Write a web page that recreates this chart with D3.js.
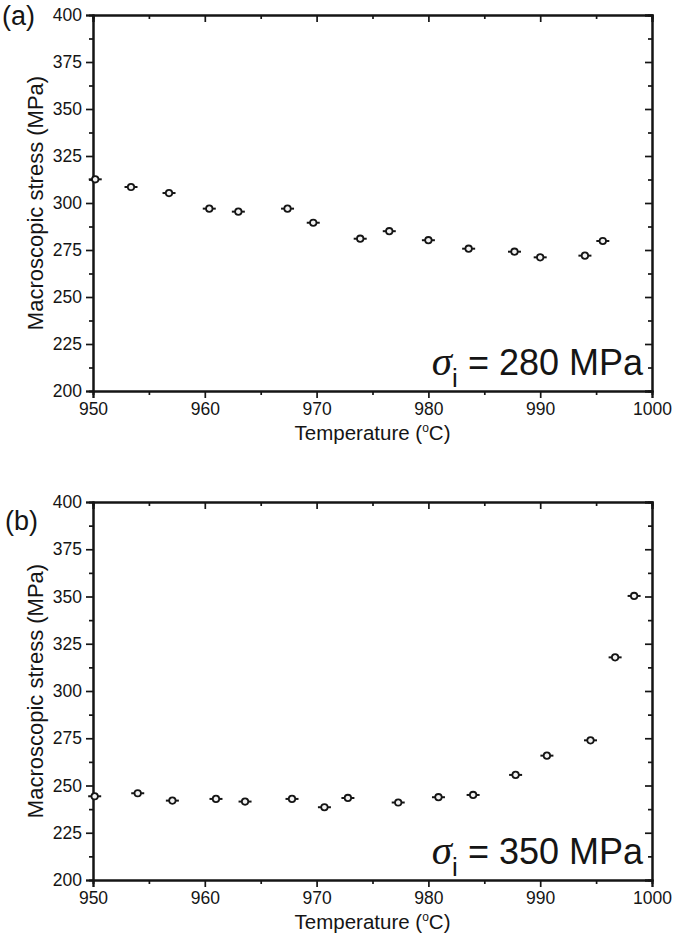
<!DOCTYPE html>
<html><head><meta charset="utf-8">
<script src="https://cdn.jsdelivr.net/npm/d3@7/dist/d3.min.js"></script>
<style>body{margin:0;background:#fff}</style>
</head><body>
<svg id="c" width="675" height="937"></svg>
<script>
// Panel (a): sigma_i = 280 MPa
const tempA   = [950.2, 953.4, 956.8, 960.4, 963.0, 967.4, 969.7, 973.9, 976.5, 980.0, 983.6, 987.7, 990.0, 994.0, 995.6];
const stressA = [312.6, 308.5, 305.3, 297.0, 295.4, 297.0, 289.5, 281.0, 285.0, 280.2, 275.7, 274.1, 271.1, 272.0, 279.8];
// Panel (b): sigma_i = 350 MPa
const tempB   = [950.15, 954.0, 957.1, 961.0, 963.6, 967.8, 970.7, 972.8, 977.3, 980.9, 984.0, 987.8, 990.6, 994.5, 996.7, 998.4];
const stressB = [244.3, 245.9, 242.0, 242.9, 241.5, 242.9, 238.5, 243.4, 241.0, 243.8, 245.0, 255.6, 265.8, 273.9, 317.8, 350.3];

const xTicks = [950, 960, 970, 980, 990, 1000];
const xMinor = [955, 965, 975, 985, 995];
const yTicks = [200, 225, 250, 275, 300, 325, 350, 375, 400];
const yMinor = [212.5, 237.5, 262.5, 287.5, 312.5, 337.5, 362.5, 387.5];
const panelLabels = ["(a)", "(b)"];
const sigmaValues = ["280", "350"];
const xTitle = "Temperature (";
const yTitle = "Macroscopic stress (MPa)";

const svg = d3.select("#c");
const FONT = "'Liberation Sans', Arial, sans-serif";
const INK = "#151515";
const left = 93, right = 652;
const layout = [{top: 15, bottom: 391, lx: 2, ly: 25}, {top: 502, bottom: 880, lx: 5, ly: 530}];
const data = [[tempA, stressA], [tempB, stressB]];

const x = d3.scaleLinear().domain([950, 1000]).range([left, right]);

layout.forEach((L, i) => {
  const y = d3.scaleLinear().domain([200, 400]).range([L.bottom, L.top]);
  const g = svg.append("g");

  function styleAxis(sel) {
    sel.select(".domain").attr("stroke", INK).attr("stroke-width", 2);
    sel.selectAll(".tick line").attr("stroke", INK).attr("stroke-width", 1.7);
    sel.selectAll(".tick text").attr("fill", INK).style("font-family", FONT).style("font-size", "17.5px");
  }
  // minor ticks
  g.append("g").attr("transform", `translate(0,${L.bottom})`)
    .call(d3.axisBottom(x).tickValues(xMinor).tickSize(4).tickFormat("")).call(styleAxis);
  g.append("g").attr("transform", `translate(0,${L.top})`)
    .call(d3.axisTop(x).tickValues(xMinor).tickSize(-4).tickFormat("")).call(styleAxis);
  g.append("g").attr("transform", `translate(${left},0)`)
    .call(d3.axisLeft(y).tickValues(yMinor).tickSize(4).tickFormat("")).call(styleAxis);
  g.append("g").attr("transform", `translate(${right},0)`)
    .call(d3.axisRight(y).tickValues(yMinor).tickSize(-4).tickFormat("")).call(styleAxis);
  // major ticks
  g.append("g").attr("transform", `translate(0,${L.bottom})`)
    .call(d3.axisBottom(x).tickValues(xTicks).tickSize(7).tickPadding(5).tickFormat(d3.format("d"))).call(styleAxis);
  g.append("g").attr("transform", `translate(0,${L.top})`)
    .call(d3.axisTop(x).tickValues(xTicks).tickSize(-7).tickFormat("")).call(styleAxis);
  g.append("g").attr("transform", `translate(${left},0)`)
    .call(d3.axisLeft(y).tickValues(yTicks).tickSize(7).tickPadding(4).tickFormat(d3.format("d"))).call(styleAxis);
  g.append("g").attr("transform", `translate(${right},0)`)
    .call(d3.axisRight(y).tickValues(yTicks).tickSize(-7).tickFormat("")).call(styleAxis);

  // points with horizontal error bars
  const [T, S] = data[i];
  const pts = g.append("g").selectAll("g").data(T.map((t, k) => [t, S[k]])).join("g")
    .attr("transform", d => `translate(${x(d[0])},${y(d[1])})`);
  pts.append("line").attr("x1", -6.5).attr("x2", 6.5).attr("stroke", INK).attr("stroke-width", 2);
  pts.append("circle").attr("r", 3.2).attr("fill", "#f2f2f2").attr("stroke", INK).attr("stroke-width", 1.8);

  // x title
  const xt = g.append("text").attr("x", (left + right) / 2).attr("y", L.bottom + 49)
    .attr("text-anchor", "middle").attr("fill", INK).style("font-family", FONT).style("font-size", "20.5px");
  xt.append("tspan").text(xTitle);
  xt.append("tspan").attr("dy", -8).style("font-size", "12px").text("o");
  xt.append("tspan").attr("dy", 8).text("C)");

  // y title
  g.append("text").attr("transform", `translate(43,${(L.top + L.bottom) / 2}) rotate(-90)`)
    .attr("text-anchor", "middle").attr("fill", INK).style("font-family", FONT).style("font-size", "22px")
    .text(yTitle);

  // panel label
  g.append("text").attr("x", L.lx).attr("y", L.ly).attr("fill", INK)
    .style("font-family", FONT).style("font-size", "27px").text(panelLabels[i]);

  // annotation
  const an = g.append("text").attr("x", 643).attr("y", L.bottom - 16).attr("text-anchor", "end")
    .attr("fill", INK).style("font-family", FONT).style("font-size", "36px");
  an.append("tspan").style("font-family", "'Liberation Serif', serif").style("font-style", "italic")
    .style("font-size", "41px").text("σ");
  an.append("tspan").attr("dy", 12).style("font-size", "26px").text("i");
  an.append("tspan").attr("dy", -12).text(" = " + sigmaValues[i] + " MPa");
});
</script>
</body></html>
